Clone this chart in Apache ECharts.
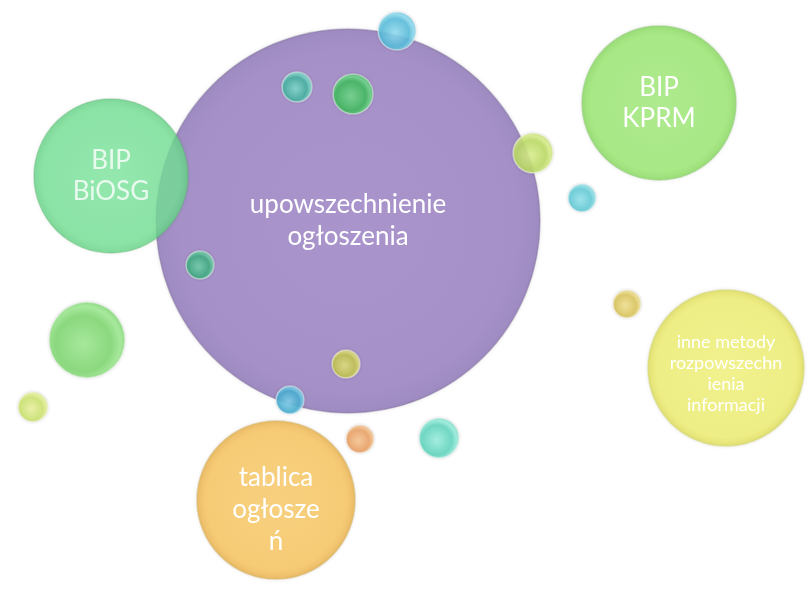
<!DOCTYPE html>
<html><head><meta charset="utf-8">
<script src="https://cdn.jsdelivr.net/npm/echarts@6/dist/echarts.min.js"></script>
<style>html,body{margin:0;padding:0;background:#fff}#c{width:808px;height:589px}</style>
</head><body><div id="c"></div>
<script>
// Large labelled bubbles
const bubbleNames = ['upowszechnienie\nogłoszenia', 'BIP\nBiOSG', 'BIP\nKPRM', 'inne metody\nrozpowszechn\nienia\ninformacji', 'tablica\nogłosze\nń'];
const bubbleX = [348, 111, 659, 726, 276];
const bubbleY = [221, 176, 103, 368, 500];
const bubbleSize = [384, 154, 154, 156, 158];

// Small decorative bubbles
const dotX = [397, 297, 353, 533, 582, 200, 346, 290, 360, 439, 627, 87, 33];
const dotY = [31, 87, 94, 153, 198, 265, 364, 400, 439, 438, 304, 340, 407];
const dotSize = [38, 30, 40, 40, 28, 28, 28, 28, 28, 40, 28, 76, 30];

// styles (kept separate from data)
const bubbleStyle = [
  {c: ['#a995cc', '#a591c8', '#9e8bc1'], b: 'rgba(130,115,155,0.4)', op: 1, fs: 26, lh: 32, off: [0, 0]},
  {c: ['#7ee79e', '#74e195', '#64d285'], b: 'rgba(90,180,110,0.45)', op: 0.8, fs: 26, lh: 31, off: [0, 0]},
  {c: ['#aeea8e', '#a8e886', '#9ade78'], b: 'rgba(150,205,125,0.55)', op: 1, fs: 26, lh: 31, off: [0, 0]},
  {c: ['#f1f18e', '#eeee86', '#e2e274'], b: 'rgba(215,215,120,0.55)', op: 1, fs: 18, lh: 21, off: [0, 6]},
  {c: ['#f8d07e', '#f6cb76', '#ecbd68'], b: 'rgba(215,180,100,0.55)', op: 1, fs: 26, lh: 32, off: [0, 10]}
];
const dotStyle = [
  ['#94def2', '#58bddc'], ['#84ddce', '#48b4a2'], ['#74da8e', '#42bc60'], ['#dcf090', '#bcdc64'],
  ['#94e4ec', '#64ccd8'], ['#74d2ac', '#42ae84'], ['#e4e282', '#c4c652'], ['#84d2ec', '#48aed2'],
  ['#f8c692', '#eca266'], ['#9cf0de', '#62d6c0'], ['#f2e292', '#dcc65c'], ['#a0ea94', '#80d872'],
  ['#ecf4a0', '#cce470']
];

function radial(cs) {
  return {type: 'radial', x: 0.5, y: 0.5, r: 0.5, colorStops: [
    {offset: 0, color: cs[0]}, {offset: 0.88, color: cs[1]}, {offset: 1, color: cs[2]}]};
}
function dotGrad(cs) {
  return {type: 'radial', x: 0.45, y: 0.55, r: 0.6, colorStops: [
    {offset: 0, color: cs[0]}, {offset: 0.6, color: cs[1]}, {offset: 0.8, color: cs[0]}, {offset: 1, color: cs[1]}]};
}

const bigData = bubbleNames.map((n, i) => ({
  name: n,
  value: [bubbleX[i], bubbleY[i], bubbleSize[i]],
  itemStyle: {color: radial(bubbleStyle[i].c), borderColor: bubbleStyle[i].b, borderWidth: 1.5, opacity: bubbleStyle[i].op,
    shadowBlur: 4, shadowColor: 'rgba(0,0,0,0.1)'},
  label: {fontSize: bubbleStyle[i].fs, lineHeight: bubbleStyle[i].lh, offset: bubbleStyle[i].off}
}));
const dotData = dotX.map((x, i) => ({
  value: [x, dotY[i], dotSize[i]],
  itemStyle: {color: dotGrad(dotStyle[i]), borderColor: 'rgba(255,255,255,0.5)', borderWidth: 1.5, opacity: 0.88,
    shadowBlur: 3, shadowColor: 'rgba(0,0,0,0.18)'}
}));

const chart = echarts.init(document.getElementById('c'));
chart.setOption({
  animation: false,
  grid: {left: 0, right: 0, top: 0, bottom: 0},
  xAxis: {type: 'value', min: 0, max: 808, show: false},
  yAxis: {type: 'value', min: 0, max: 589, inverse: true, show: false},
  series: [
    {type: 'scatter', z: 2, data: bigData, symbolSize: v => v[2],
      label: {show: true, position: 'inside', formatter: p => p.name, color: '#ffffff',
        fontFamily: 'Lato, "Open Sans", sans-serif', align: 'center'}},
    {type: 'scatter', z: 3, data: dotData, symbolSize: v => v[2]}
  ]
});
</script></body></html>
